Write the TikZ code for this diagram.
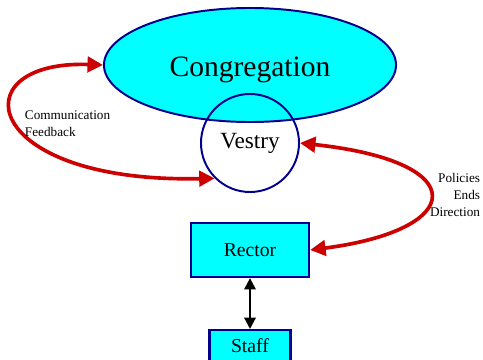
\documentclass[tikz,border=0pt]{standalone}
\usepackage{fontspec}
\setmainfont{Liberation Serif}
\usetikzlibrary{positioning,shapes.geometric,arrows.meta}
\definecolor{navyline}{RGB}{0,0,140}
\definecolor{loopred}{RGB}{204,0,0}
\definecolor{aqua}{RGB}{0,255,255}
\tikzstyle{body} = [ellipse,
                    minimum width=7.3cm,
                    minimum height=2.85cm,
                    text height=21.5pt,
                    text depth=4.5pt,
                    fill=aqua,
                    draw=navyline,
                    line width=1.4pt]
\tikzstyle{board} = [circle,
                     minimum size=2.45cm,
                     draw=navyline,
                     line width=1.4pt]
\tikzstyle{office} = [rectangle,
                      text centered,
                      fill=aqua,
                      draw=navyline,
                      line width=1.6pt]
\tikzstyle{loop} = [draw=loopred,
                    line width=2.6pt,
                    {Triangle[length=11pt,width=11pt]}-{Triangle[length=11pt,width=11pt]}]
\tikzstyle{link} = [draw=black,
                    line width=1.6pt,
                    {Triangle[length=8pt,width=8pt]}-{Triangle[length=8pt,width=8pt]}]

\begin{document}
\begin{tikzpicture}[x=0.025cm,y=-0.025cm]
\useasboundingbox (0,0) rectangle (483,360);
\node (congr) [body] at (250,65) {\fontsize{21}{25}\selectfont Congregation};
\node (vestry) [board] at (250,143) {\fontsize{16.5}{20}\selectfont Vestry};
\node (rector) [office, minimum width=2.95cm, minimum height=1.35cm] at (250,250) {\fontsize{14}{17}\selectfont Rector};
\node (staff) [office, minimum width=2.025cm, minimum height=0.8cm, anchor=north] at (250,329) {\fontsize{14}{17}\selectfont Staff};
% feedback loop on the left
\draw [loop] (congr.west) .. controls +(-144,-5) and +(-235,5) .. (vestry.225);
\node (fb) [anchor=west, align=left, font=\fontsize{9.4}{12}\selectfont] at (20,124) {Communication\\Feedback};
% direction loop on the right
\draw [loop] (vestry.east) .. controls +(175,19) and +(155,-20) .. (rector.east);
\node (pd) [anchor=east, align=right, font=\fontsize{9.4}{12}\selectfont] at (485,195) {Policies\\Ends\\Direction};
\draw [link] (rector.south) -- (staff.north);
\end{tikzpicture}
\end{document}
